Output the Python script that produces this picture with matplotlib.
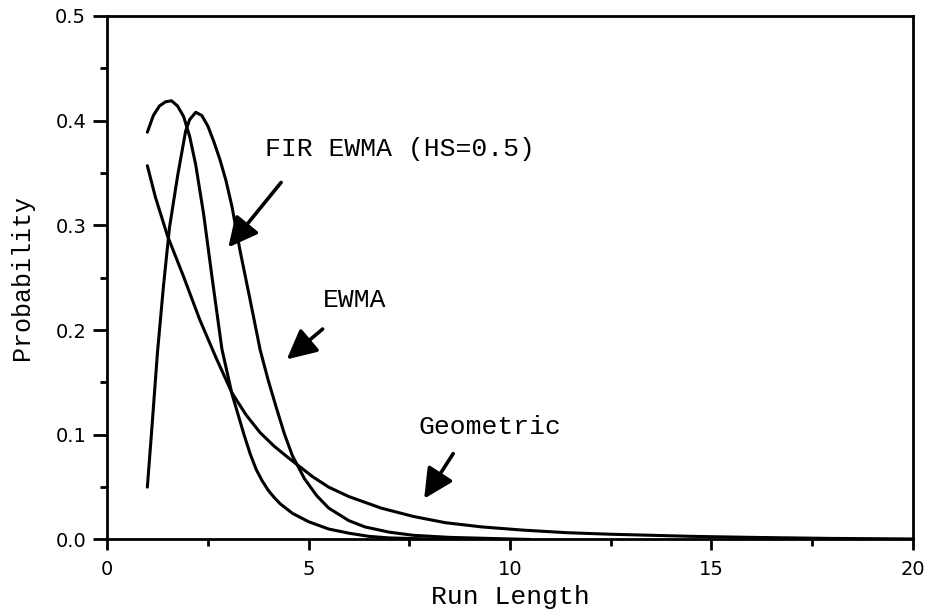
import numpy as np
import matplotlib.pyplot as plt
from matplotlib.ticker import MultipleLocator

fir_x = [1.0, 1.15, 1.3, 1.45, 1.6, 1.75, 1.9, 2.05, 2.2, 2.4, 2.6, 2.85, 3.1,
         3.4, 3.55, 3.7, 3.85, 4.0, 4.15, 4.3, 4.6, 5.0, 5.5, 6.0, 6.5, 7.0,
         8.0, 9.0]
fir_p = [0.389, 0.405, 0.414, 0.418, 0.419, 0.414, 0.404, 0.385, 0.358, 0.310,
         0.252, 0.182, 0.139, 0.100, 0.082, 0.067, 0.056, 0.047, 0.040, 0.034,
         0.025, 0.017, 0.010, 0.006, 0.003, 0.0015, 0.0005, 0.0]

ewma_x = [1.0, 1.1, 1.25, 1.4, 1.55, 1.75, 1.95, 2.05, 2.2, 2.35, 2.5, 2.65,
          2.8, 2.95, 3.1, 3.3, 3.55, 3.8, 4.0, 4.2, 4.4, 4.6, 4.9, 5.2, 5.5,
          6.0, 6.4, 7.0, 7.6, 8.5, 9.5, 10.5]
ewma_p = [0.050, 0.100, 0.178, 0.242, 0.298, 0.347, 0.390, 0.401, 0.408, 0.405,
          0.395, 0.380, 0.363, 0.343, 0.318, 0.276, 0.229, 0.181, 0.152, 0.126,
          0.101, 0.080, 0.058, 0.042, 0.030, 0.018, 0.012, 0.007, 0.004, 0.002,
          0.001, 0.0]

geo_x = [1.0, 1.2, 1.5, 1.9, 2.3, 2.7, 3.1, 3.45, 3.8, 4.15, 4.5, 5.1, 5.5,
         6.0, 6.8, 7.6, 8.4, 9.3, 10.3, 11.4, 12.5, 13.5, 14.5, 16.0, 18.0,
         20.0]
geo_p = [0.357, 0.327, 0.290, 0.251, 0.210, 0.174, 0.140, 0.119, 0.102, 0.089,
         0.078, 0.060, 0.050, 0.041, 0.030, 0.022, 0.016, 0.012, 0.009, 0.0065,
         0.005, 0.004, 0.003, 0.002, 0.001, 0.0005]

# labels with arrow tail/tip in data coords
notes = [
    ("FIR EWMA (HS=0.5)", (3.92, 0.373), (4.32, 0.341), (3.01, 0.279)),
    ("EWMA", (5.36, 0.229), (5.35, 0.201), (4.46, 0.172)),
    ("Geometric", (7.72, 0.107), (8.59, 0.082), (7.87, 0.039)),
]

mono = "Liberation Mono"

fig = plt.figure(figsize=(9.3, 6.12), dpi=100)
ax = fig.add_axes([0.1151, 0.1185, 0.8666, 0.8554])

for xs, ys in [(fir_x, fir_p), (ewma_x, ewma_p), (geo_x, geo_p)]:
    ax.plot(xs, ys, color="black", lw=2.2, solid_capstyle="round",
            solid_joinstyle="round")

for txt, pos, tail, tip in notes:
    ax.text(pos[0], pos[1], txt, family=mono, fontsize=19, va="center",
            ha="left")
    ax.annotate("", xy=tip, xytext=tail,
                arrowprops=dict(arrowstyle="-|>,head_length=0.9,head_width=0.45",
                                color="black", lw=2.6, shrinkA=0, shrinkB=0,
                                mutation_scale=20))

ax.set_xlim(0, 20)
ax.set_ylim(0, 0.5)
ax.xaxis.set_major_locator(MultipleLocator(5))
ax.xaxis.set_minor_locator(MultipleLocator(2.5))
ax.yaxis.set_major_locator(MultipleLocator(0.1))
ax.yaxis.set_minor_locator(MultipleLocator(0.05))
ax.set_xticklabels([f"{v:g}" for v in ax.get_xticks()])
ax.set_yticklabels([f"{v:.1f}" for v in ax.get_yticks()])

ax.tick_params(which="major", direction="out", width=2, labelsize=14,
               top=False, right=False)
ax.tick_params(axis="y", which="major", length=10, pad=5)
ax.tick_params(axis="x", which="major", length=8, pad=7)
ax.tick_params(which="minor", direction="out", width=2, length=5,
               top=False, right=False)
for lab in ax.get_xticklabels() + ax.get_yticklabels():
    lab.set_family("DejaVu Sans")

for s in ax.spines.values():
    s.set_linewidth(2)

ax.set_xlabel("Run Length", family=mono, fontsize=19, labelpad=4)
ax.set_ylabel("Probability", family=mono, fontsize=18, labelpad=15)

fig.savefig("out.png", dpi=100)
